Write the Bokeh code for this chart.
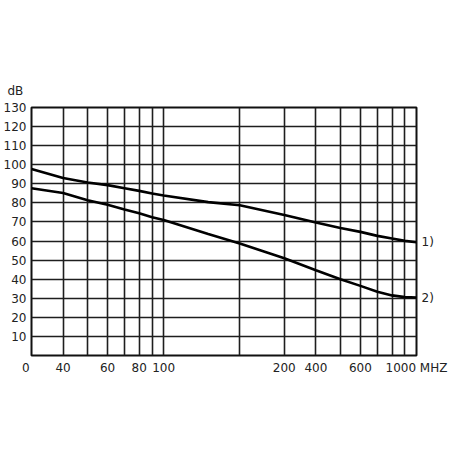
from bokeh.plotting import figure
from bokeh.models import FixedTicker, LinearAxis
from bokeh.embed import file_html
from bokeh.resources import INLINE

# --- data ---
freq_mhz = [30, 40, 50, 60, 70, 80, 90, 100, 150, 200, 300, 400, 500, 600, 700, 800, 900, 1000]
curve_1 = [97.7, 93.0, 90.7, 89.3, 87.7, 86.3, 84.9, 83.9, 80.4, 78.8, 73.7, 69.7, 66.8, 64.8, 62.7, 61.3, 60.1, 59.4]
curve_2 = [87.7, 85.2, 81.4, 79.0, 76.5, 74.6, 72.5, 71.0, 63.7, 58.7, 51.0, 44.7, 40.0, 36.5, 33.4, 31.5, 30.6, 30.4]
curve_names = ["1)", "2)"]

x_grid_ticks = [40, 50, 60, 70, 80, 90, 100, 200, 300, 400, 500, 600, 700, 800, 900]
x_label_ticks = [30, 40, 60, 80, 100, 300, 400, 600, 1000]
x_label_texts = ["0\u00a0\u00a0\u00a0", "40", "60", "80", "100", "200", "400", "600", "1000 MHZ"]
y_ticks = [10, 20, 30, 40, 50, 60, 70, 80, 90, 100, 110, 120, 130]
y_unit = "dB"

FONT = "DejaVu Sans"
TXT = "#222222"

p = figure(width=452, height=452, x_axis_type="log", x_range=(30, 1000), y_range=(0, 130),
           output_backend="svg", toolbar_location=None,
           min_border_left=31, min_border_right=36, min_border_top=107, min_border_bottom=97)

p.background_fill_color = "white"
p.border_fill_color = "white"
p.outline_line_color = "#111111"
p.outline_line_width = 2

# unit label as title
p.title.text = y_unit
p.title.align = "left"
p.title.offset = -24
p.title.standoff = 20
p.title.text_font = FONT
p.title.text_font_size = "12px"
p.title.text_font_style = "normal"
p.title.text_color = TXT

# axes
p.xaxis.ticker = FixedTicker(ticks=x_label_ticks)
p.xaxis.major_label_overrides = {t: s for t, s in zip(x_label_ticks, x_label_texts)}
p.yaxis.ticker = FixedTicker(ticks=y_ticks)

right_ticks = [curve_1[-1], curve_2[-1]]
raxis = LinearAxis(ticker=FixedTicker(ticks=right_ticks),
                   major_label_overrides={t: s for t, s in zip(right_ticks, curve_names)})
p.add_layout(raxis, "right")

for ax in (p.xaxis[0], p.yaxis[0], raxis):
    ax.axis_line_color = None
    ax.major_tick_line_color = None
    ax.minor_tick_line_color = None
    ax.major_tick_out = 0
    ax.major_tick_in = 0
    ax.minor_tick_out = 0
    ax.minor_tick_in = 0
    ax.major_label_standoff = 5
    ax.major_label_text_font = FONT
    ax.major_label_text_font_size = "12px"
    ax.major_label_text_color = TXT

# grid
p.xgrid[0].ticker = FixedTicker(ticks=x_grid_ticks)
p.ygrid[0].ticker = FixedTicker(ticks=y_ticks[:-1])
for g in (p.xgrid[0], p.ygrid[0]):
    g.grid_line_color = "#1e1e1e"
    g.grid_line_width = 1.6
    g.minor_grid_line_color = None

# curves
p.line(freq_mhz, curve_1, line_color="black", line_width=2.6)
p.line(freq_mhz, curve_2, line_color="black", line_width=2.6)

open("out.html", "w").write(file_html(p, INLINE))
